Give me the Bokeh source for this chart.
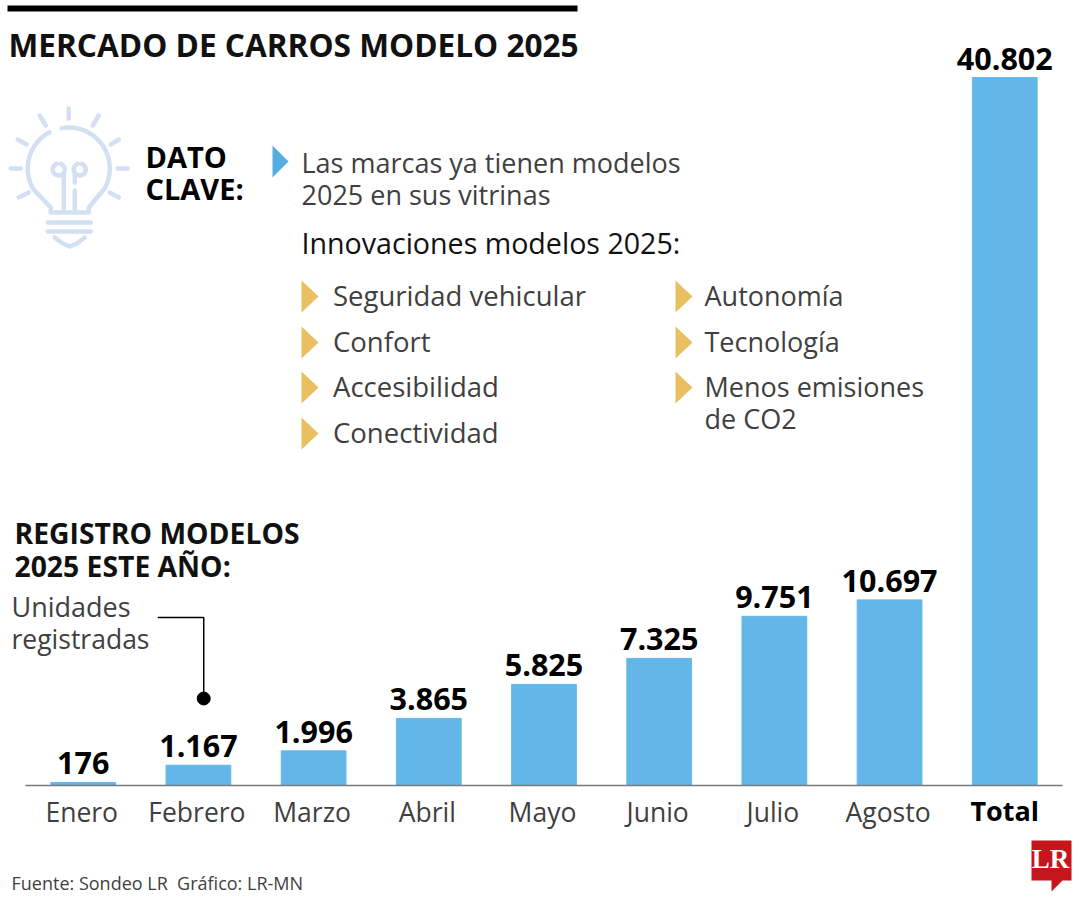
import numpy as np
from bokeh.embed import file_html
from bokeh.resources import INLINE
from bokeh.plotting import figure
from bokeh.models import Range1d, Label, PolyAnnotation, FactorRange, ColumnDataSource
from bokeh.core.properties import value

months = ["Enero", "Febrero", "Marzo", "Abril", "Mayo", "Junio", "Julio", "Agosto", "Total"]
units = [176, 1167, 1996, 3865, 5825, 7325, 9751, 10697, 40802]
unit_labels = ["176", "1.167", "1.996", "3.865", "5.825", "7.325", "9.751", "10.697", "40.802"]
left_items = ["Seguridad vehicular", "Confort", "Accesibilidad", "Conectividad"]
right_items = ["Autonomía", "Tecnología", "Menos emisiones", "de CO2"]

FONT = "Open Sans"
BLUE = "#62b7e8"
GOLD = "#e9bf62"
BULB = "#d3dff2"
TXT = "#3f3f3f"

W, H = 1080, 900
FRAME_L = 7            # frame runs to the canvas edge so that nothing is clipped
BASE_Y, BAR_TOP = 785, 77
STEP, C0 = 115.19, 82.5
PAD = (W - FRAME_L) / STEP - len(months)
K = max(units) / (BASE_Y - BAR_TOP)


def X(x):
    return (np.asarray(x, dtype=float) - C0) / STEP + 0.5


def Y(y):
    return (BASE_Y - np.asarray(y, dtype=float)) * K


p = figure(width=W, height=H, output_backend="svg", toolbar_location=None,
           x_range=FactorRange(factors=months, range_padding=PAD / len(months)),
           y_range=Range1d(float(Y(H)), float(Y(0))),
           min_border_left=FRAME_L, min_border_right=0, min_border_top=0, min_border_bottom=0)
p.yaxis.visible = False
p.grid.visible = False
p.outline_line_color = None
p.background_fill_color = None
p.border_fill_color = None

ax = p.xaxis[0]
ax.fixed_location = 0
ax.bounds = (0, len(months))
ax.axis_line_color = "#7a7a7a"
ax.axis_line_width = 1.5
ax.major_tick_line_color = None
ax.minor_tick_line_color = None
ax.major_label_text_color = None   # month names are drawn below, so that "Total" can be bold

src = ColumnDataSource(dict(m=months, v=units, t=unit_labels))
p.vbar(x="m", top="v", width=0.562, color=BLUE, source=src)
p.text(x="m", y="v", text="t", source=src, text_align="center", text_baseline="alphabetic",
       y_offset=-19, text_font=value(FONT), text_font_style="bold", text_font_size="30.5px", text_color="#000000")

zero_regular = [0] * (len(months) - 1)
p.text(x=months[:-1], y=zero_regular, text=months[:-1], text_align="center", text_baseline="alphabetic",
       x_offset=-1.5, y_offset=26, text_font=value(FONT), text_font_size="26.5px", text_color=TXT)
p.text(x=months[-1:], y=[0], text=months[-1:], text_align="center", text_baseline="alphabetic",
       x_offset=0, y_offset=25, text_font=value(FONT), text_font_style="bold", text_font_size="27px", text_color="#000000")


def label(x, y, s, size, bold=False, color=TXT, align="left", font=FONT):
    p.add_layout(Label(x=x - 1 - FRAME_L, y=H - y + 0.44 * size, x_units="screen", y_units="screen", text=s,
                       text_font=font, text_font_size=f"{size}px",
                       text_font_style="bold" if bold else "normal",
                       text_color=color, text_align=align, text_baseline="alphabetic"))


def poly(xs, ys, color):
    p.add_layout(PolyAnnotation(xs=list(map(float, xs)), ys=list(map(float, ys)), xs_units="canvas", ys_units="canvas",
                                fill_color=color, fill_alpha=1, line_color=None))


# header
poly([0, 577, 577, 0], [5, 5, 11, 11], "#000000")
label(9, 58, "MERCADO DE CARROS MODELO 2025", 31.6, True, "#111111")
label(146, 169, "DATO", 29, True, "#000000")
label(146, 201, "CLAVE:", 29, True, "#000000")
label(302, 174, "Las marcas ya tienen modelos", 27)
label(302, 206, "2025 en sus vitrinas", 27)
label(302, 255, "Innovaciones modelos 2025:", 28.6, False, "#111111")
poly([272, 288, 272], [145, 161, 177], "#56ade3")

for y, s in zip([307, 353, 398, 444], left_items):
    label(333.5, y, s, 27.5)
    poly([301, 318, 301], [y - 27, y - 11, y + 5], GOLD)
for y, s in zip([307, 353, 398, 430], right_items):
    label(705, y, s, 27)
    if s != "de CO2":
        poly([675, 692, 675], [y - 27, y - 11, y + 5], GOLD)

label(15, 545, "REGISTRO MODELOS", 28.3, True, "#111111")
label(15, 578, "2025 ESTE AÑO:", 28.3, True, "#111111")
label(12, 618, "Unidades", 27)
label(12, 650, "registradas", 26.5)
label(12, 890, "Fuente: Sondeo LR\u00a0\u00a0Gráfico: LR-MN", 18)

# leader
p.line(X([157, 203, 203]), Y([617, 617, 698]), color="#000000", line_width=1.5)
p.scatter(X([203]), Y([698]), size=13, color="#000000")

# logo
poly([1031, 1071, 1071, 1062, 1051, 1051, 1031], [840, 840, 880, 880, 891, 880, 880], "#c4161c")
label(1051, 870, "LR", 27, True, "#ffffff", "center", "Liberation Serif")

# bulb
cx, cy, r = 68, 168, 41
a1 = np.radians(np.linspace(100, -30, 40))
a2 = np.radians(np.linspace(210, 118, 30))
bx = list(cx + r * np.cos(a1)) + [88, 88, 50, 50] + list(cx + r * np.cos(a2))
by = list(cy - r * np.sin(a1)) + [207, 212, 212, 207] + list(cy - r * np.sin(a2))
t = np.radians(np.linspace(-70, 250, 30))
parts = [
    (bx, by),
    ([47, 90], [222, 222]), ([47, 90], [231, 231]),
    ([54, 62, 69, 76, 84], [237, 243, 246, 243, 237]),
    (list(58 + 6 * np.cos(t)), list(169 + 6 * np.sin(t))),
    (list(79 + 6 * np.cos(t)), list(169 + 6 * np.sin(t))),
    ([63, 63], [175, 210]), ([74, 74], [190, 210]), ([74, 74], [175, 182]),
    ([68, 68], [108, 118]), ([39, 45], [115, 125]), ([98, 92], [115, 125]),
    ([17, 26], [139, 144]), ([118, 110], [139, 144]), ([10, 20], [168, 168]),
    ([117, 127], [168, 168]), ([18, 28], [197, 192]), ([118, 109], [197, 192]),
]
p.multi_line([list(X(a)) for a, _ in parts], [list(Y(b)) for _, b in parts],
             color=BULB, line_width=4.5, line_cap="round", line_join="round")

open("out.html", "w").write(file_html(p, INLINE))
